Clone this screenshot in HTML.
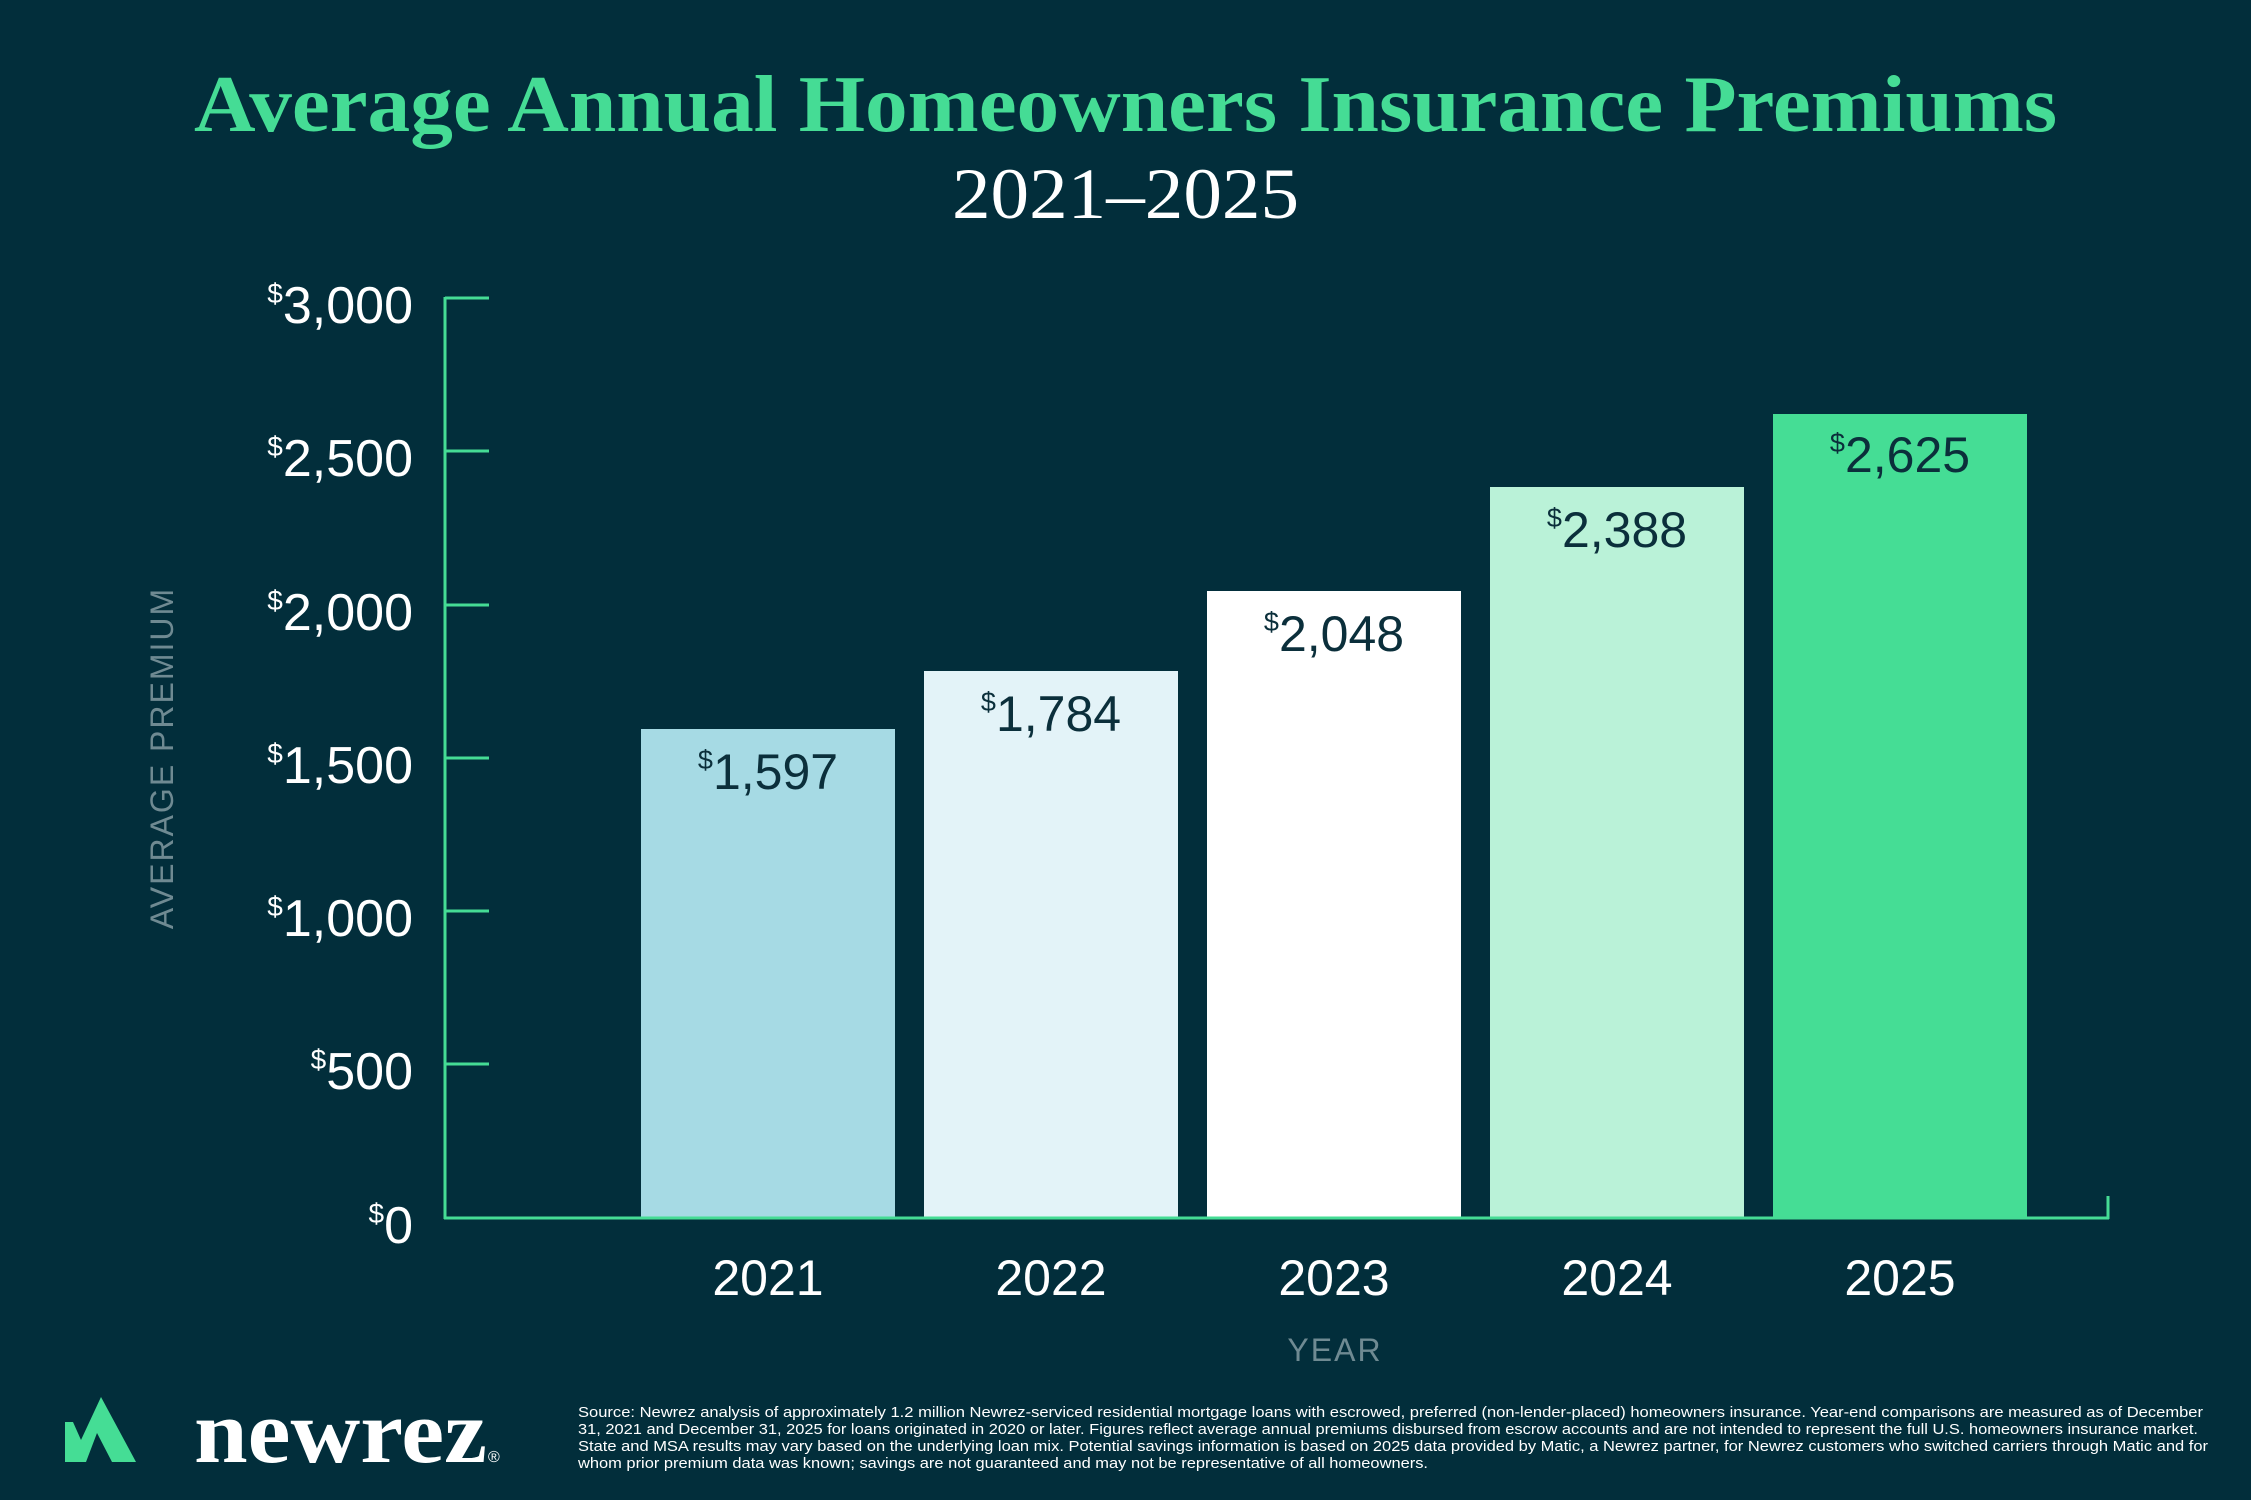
<!DOCTYPE html>
<html><head><meta charset="utf-8"><style>
html,body{margin:0;padding:0;background:#022e3b;}
svg{display:block;}
</style></head><body>
<svg width="2251" height="1500" viewBox="0 0 2251 1500" xmlns="http://www.w3.org/2000/svg">
<rect width="2251" height="1500" fill="#022e3b"/>
<text x="194" y="131" font-family="Liberation Serif, serif" font-weight="bold" font-size="80" fill="#45dc95" textLength="1863" lengthAdjust="spacingAndGlyphs">Average Annual Homeowners Insurance Premiums</text>
<text x="952" y="218" font-family="Liberation Serif, serif" font-size="72" fill="#ffffff" textLength="347" lengthAdjust="spacingAndGlyphs">2021–2025</text>

<rect x="641" y="729" width="254" height="489" fill="#a6dae4"/>
<rect x="924" y="671" width="254" height="547" fill="#e3f3f8"/>
<rect x="1207" y="591" width="254" height="627" fill="#ffffff"/>
<rect x="1490" y="487" width="254" height="731" fill="#baf2d8"/>
<rect x="1773" y="414" width="254" height="804" fill="#45dd95"/>

<g stroke="#45dc95" stroke-width="3" fill="none">
<line x1="445" y1="297" x2="445" y2="1219"/>
<line x1="444" y1="1218" x2="2109" y2="1218"/>
<line x1="2108" y1="1196" x2="2108" y2="1219"/>
<line x1="445" y1="298" x2="489" y2="298"/>
<line x1="445" y1="451" x2="489" y2="451"/>
<line x1="445" y1="605" x2="489" y2="605"/>
<line x1="445" y1="758" x2="489" y2="758"/>
<line x1="445" y1="911" x2="489" y2="911"/>
<line x1="445" y1="1064" x2="489" y2="1064"/>
</g>

<g font-family="Liberation Sans, sans-serif" font-size="52" fill="#ffffff" text-anchor="end">
<text x="413" y="323"><tspan font-size="28" dy="-20">$</tspan><tspan dy="20">3,000</tspan></text>
<text x="413" y="476"><tspan font-size="28" dy="-20">$</tspan><tspan dy="20">2,500</tspan></text>
<text x="413" y="630"><tspan font-size="28" dy="-20">$</tspan><tspan dy="20">2,000</tspan></text>
<text x="413" y="783"><tspan font-size="28" dy="-20">$</tspan><tspan dy="20">1,500</tspan></text>
<text x="413" y="936"><tspan font-size="28" dy="-20">$</tspan><tspan dy="20">1,000</tspan></text>
<text x="413" y="1089"><tspan font-size="28" dy="-20">$</tspan><tspan dy="20">500</tspan></text>
<text x="413" y="1243"><tspan font-size="28" dy="-20">$</tspan><tspan dy="20">0</tspan></text>
</g>

<g font-family="Liberation Sans, sans-serif" font-size="50" fill="#0b2f3b" text-anchor="middle">
<text x="768" y="789"><tspan font-size="27" dy="-20">$</tspan><tspan dy="20">1,597</tspan></text>
<text x="1051" y="731"><tspan font-size="27" dy="-20">$</tspan><tspan dy="20">1,784</tspan></text>
<text x="1334" y="651"><tspan font-size="27" dy="-20">$</tspan><tspan dy="20">2,048</tspan></text>
<text x="1617" y="547"><tspan font-size="27" dy="-20">$</tspan><tspan dy="20">2,388</tspan></text>
<text x="1900" y="472"><tspan font-size="27" dy="-20">$</tspan><tspan dy="20">2,625</tspan></text>
</g>

<g font-family="Liberation Sans, sans-serif" font-size="50" fill="#ffffff" text-anchor="middle">
<text x="768" y="1295">2021</text>
<text x="1051" y="1295">2022</text>
<text x="1334" y="1295">2023</text>
<text x="1617" y="1295">2024</text>
<text x="1900" y="1295">2025</text>
</g>
<text x="1335" y="1361" font-family="Liberation Sans, sans-serif" font-size="32" fill="#6f8a92" text-anchor="middle" letter-spacing="2">YEAR</text>
<text transform="translate(173,758) rotate(-90)" x="0" y="0" font-family="Liberation Sans, sans-serif" font-size="32" fill="#6f8a92" text-anchor="middle" letter-spacing="2">AVERAGE PREMIUM</text>

<polygon points="65,1422 73,1422 81,1440 101,1397 136,1462 112,1462 97,1433 86,1462 65,1462" fill="#45dd95"/>
<text x="194" y="1462" font-family="Liberation Serif, serif" font-weight="bold" font-size="90" fill="#ffffff" textLength="293" lengthAdjust="spacingAndGlyphs">newrez</text>
<text x="488" y="1462" font-family="Liberation Sans, sans-serif" font-size="16" fill="#ffffff">®</text>

<g font-family="Liberation Sans, sans-serif" font-size="15" fill="#ffffff">
<text x="578" y="1417" textLength="1625" lengthAdjust="spacingAndGlyphs">Source: Newrez analysis of approximately 1.2 million Newrez-serviced residential mortgage loans with escrowed, preferred (non-lender-placed) homeowners insurance. Year-end comparisons are measured as of December</text>
<text x="578" y="1434" textLength="1620" lengthAdjust="spacingAndGlyphs">31, 2021 and December 31, 2025 for loans originated in 2020 or later. Figures reflect average annual premiums disbursed from escrow accounts and are not intended to represent the full U.S. homeowners insurance market.</text>
<text x="578" y="1451" textLength="1630" lengthAdjust="spacingAndGlyphs">State and MSA results may vary based on the underlying loan mix.  Potential savings information is based on 2025 data provided by Matic, a Newrez partner, for Newrez customers who switched carriers through Matic and for</text>
<text x="578" y="1468" textLength="850" lengthAdjust="spacingAndGlyphs">whom prior premium data was known; savings are not guaranteed and may not be representative of all homeowners.</text>
</g>
</svg>
</body></html>
